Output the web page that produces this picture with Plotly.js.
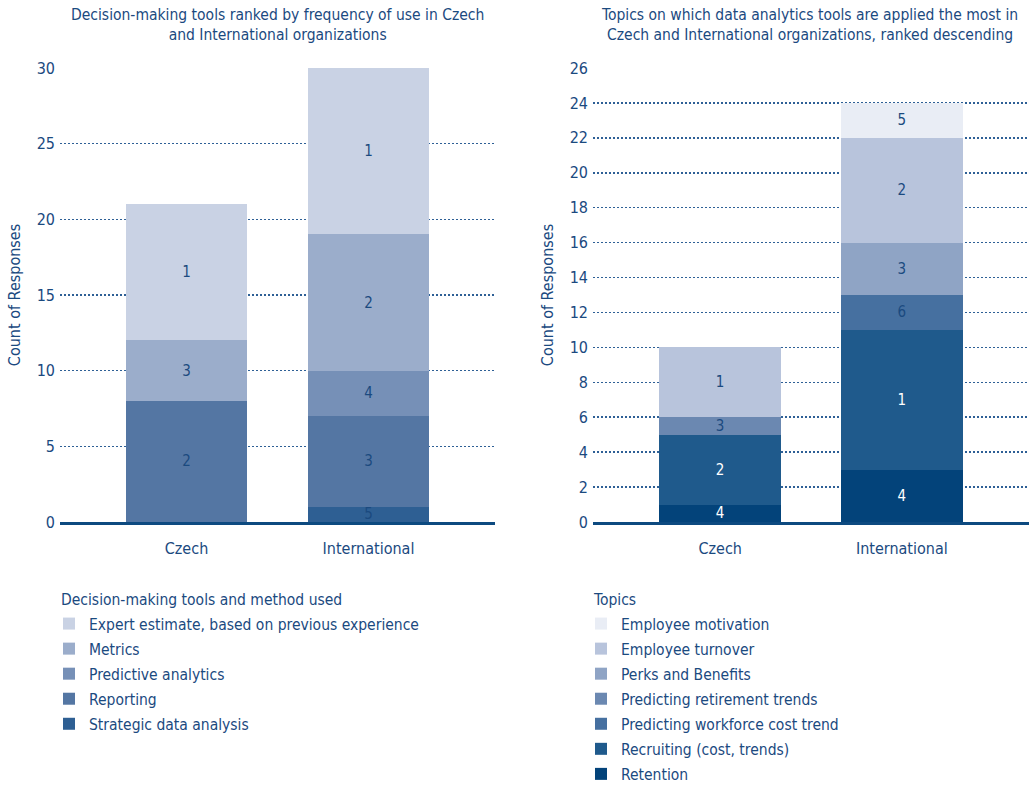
<!DOCTYPE html>
<html>
<head>
<meta charset="utf-8">
<script src="https://cdn.plot.ly/plotly-3.0.1.min.js"></script>
<style>html,body{margin:0;padding:0;background:#fff;}#chart{width:1029px;height:786px;}</style>
</head>
<body>
<div id="chart"></div>
<script>
// ---------- Data: left chart ----------
const categories = ["Czech", "International"];

const toolNames = ["Strategic data analysis", "Reporting", "Predictive analytics", "Metrics", "Expert estimate, based on previous experience"];
const toolValues = [
  [null, 1],   // Strategic data analysis
  [8, 6],      // Reporting
  [null, 3],   // Predictive analytics
  [4, 9],      // Metrics
  [9, 11]      // Expert estimate
];
const toolRanks = [
  ["", "5"],
  ["2", "3"],
  ["", "4"],
  ["3", "2"],
  ["1", "1"]
];
const toolColors = ["#2e5f93", "#5476a3", "#7690b7", "#9badcb", "#c9d2e4"];

// ---------- Data: right chart ----------
const topicNames = ["Retention", "Recruiting (cost, trends)", "Predicting workforce cost trend", "Predicting retirement trends", "Perks and Benefits", "Employee turnover", "Employee motivation"];
const topicValues = [
  [1, 3],        // Retention
  [4, 8],        // Recruiting
  [null, 2],     // Workforce cost
  [1, null],     // Retirement
  [null, 3],     // Perks
  [4, 6],        // Turnover
  [null, 2]      // Motivation
];
const topicRanks = [
  ["4", "4"],
  ["2", "1"],
  ["", "6"],
  ["3", ""],
  ["", "3"],
  ["1", "2"],
  ["", "5"]
];
const topicColors = ["#03437a", "#1f5a8c", "#4670a0", "#6b88b1", "#8fa4c5", "#b8c4dc", "#e9edf5"];
const topicTextColors = ["#ffffff", "#ffffff", "#1b4a7f", "#1b4a7f", "#1b4a7f", "#1b4a7f", "#1b4a7f"];

const FONT = "DejaVu Sans Condensed, sans-serif";
const DARK = "#1b4a7f";

const traces = [];
toolNames.forEach((n, i) => {
  traces.push({
    type: "bar", name: n, x: categories, y: toolValues[i],
    text: toolRanks[i], textposition: "inside", insidetextanchor: "middle",
    textangle: 0, constraintext: "none",
    textfont: {family: FONT, size: 15, color: DARK},
    marker: {color: toolColors[i], line: {width: 0}},
    width: 0.665, xaxis: "x", yaxis: "y", legend: "legend",
    legendgroup: "t" + i, legendrank: 1000 - i, hoverinfo: "skip"
  });
});
topicNames.forEach((n, i) => {
  traces.push({
    type: "bar", name: n, x: categories, y: topicValues[i],
    text: topicRanks[i], textposition: "inside", insidetextanchor: "middle",
    textangle: 0, constraintext: "none",
    textfont: {family: FONT, size: 15, color: topicTextColors[i]},
    marker: {color: topicColors[i], line: {width: 0}},
    width: 0.67, xaxis: "x2", yaxis: "y2", legend: "legend2",
    legendgroup: "p" + i, legendrank: 1000 - i, hoverinfo: "skip"
  });
});

const W = 1029, H = 786;
const yDom = [1 - 522 / H, 1 - 68 / H];

const yAxisCommon = {
  showgrid: true, gridcolor: "#2e6096", griddash: "1.5px,2.5px", gridwidth: 1.5,
  zeroline: false, showline: false, ticks: "",
  tickfont: {family: FONT, size: 16, color: DARK},
  ticklabelstandoff: 4,
  title: {text: "Count of Responses", font: {family: FONT, size: 16, color: DARK}, standoff: 12}
};
const xAxisCommon = {
  showline: true, linecolor: "#0d4a80", linewidth: 3, showgrid: false, zeroline: false,
  ticks: "", tickfont: {family: FONT, size: 16, color: DARK}, ticklabelstandoff: 10,
  range: [-0.695, 1.695], fixedrange: true
};

const legendCommon = {
  xanchor: "left", yanchor: "top", traceorder: "grouped", orientation: "v",
  tracegroupgap: 1.9,
  font: {family: FONT, size: 15.5, color: DARK}, bgcolor: "rgba(0,0,0,0)", itemclick: false
};

const layout = {
  width: W, height: H,
  margin: {l: 0, r: 0, t: 0, b: 0, autoexpand: false},
  paper_bgcolor: "#ffffff", plot_bgcolor: "rgba(0,0,0,0)",
  barmode: "stack",
  font: {family: FONT, color: DARK},
  xaxis: Object.assign({}, xAxisCommon, {domain: [60 / W, 495 / W], anchor: "y"}),
  yaxis: Object.assign({}, yAxisCommon, {domain: yDom, range: [0, 30], dtick: 5, anchor: "x"}),
  xaxis2: Object.assign({}, xAxisCommon, {domain: [593 / W, 1], anchor: "y2", range: [-0.7, 1.7]}),
  yaxis2: Object.assign({}, yAxisCommon, {domain: yDom, range: [0, 26], dtick: 2, anchor: "x2"}),
  showlegend: true,
  legend: Object.assign({}, legendCommon, {x: 49 / W, y: 1 - 607 / H}),
  legend2: Object.assign({}, legendCommon, {x: 581 / W, y: 1 - 607 / H}),
  annotations: [
    {text: "Decision-making tools ranked by frequency of use in Czech<br>and International organizations",
     xref: "paper", yref: "paper", x: 277.5 / W, y: 1 - 4 / H, xanchor: "center", yanchor: "top",
     showarrow: false, align: "center", font: {family: FONT, size: 15.5, color: DARK}},
    {text: "Topics on which data analytics tools are applied the most in<br>Czech and International organizations, ranked descending",
     xref: "paper", yref: "paper", x: 809 / W, y: 1 - 4 / H, xanchor: "center", yanchor: "top",
     showarrow: false, align: "center", font: {family: FONT, size: 15.5, color: DARK}},
    {text: "Decision-making tools and method used",
     xref: "paper", yref: "paper", x: 59 / W, y: 1 - 600 / H, xanchor: "left", yanchor: "middle",
     showarrow: false, font: {family: FONT, size: 15.5, color: DARK}},
    {text: "Topics",
     xref: "paper", yref: "paper", x: 591 / W, y: 1 - 600 / H, xanchor: "left", yanchor: "middle",
     showarrow: false, font: {family: FONT, size: 15.5, color: DARK}}
  ]
};

Plotly.newPlot("chart", traces, layout, {displayModeBar: false, staticPlot: true});
</script>
</body>
</html>
